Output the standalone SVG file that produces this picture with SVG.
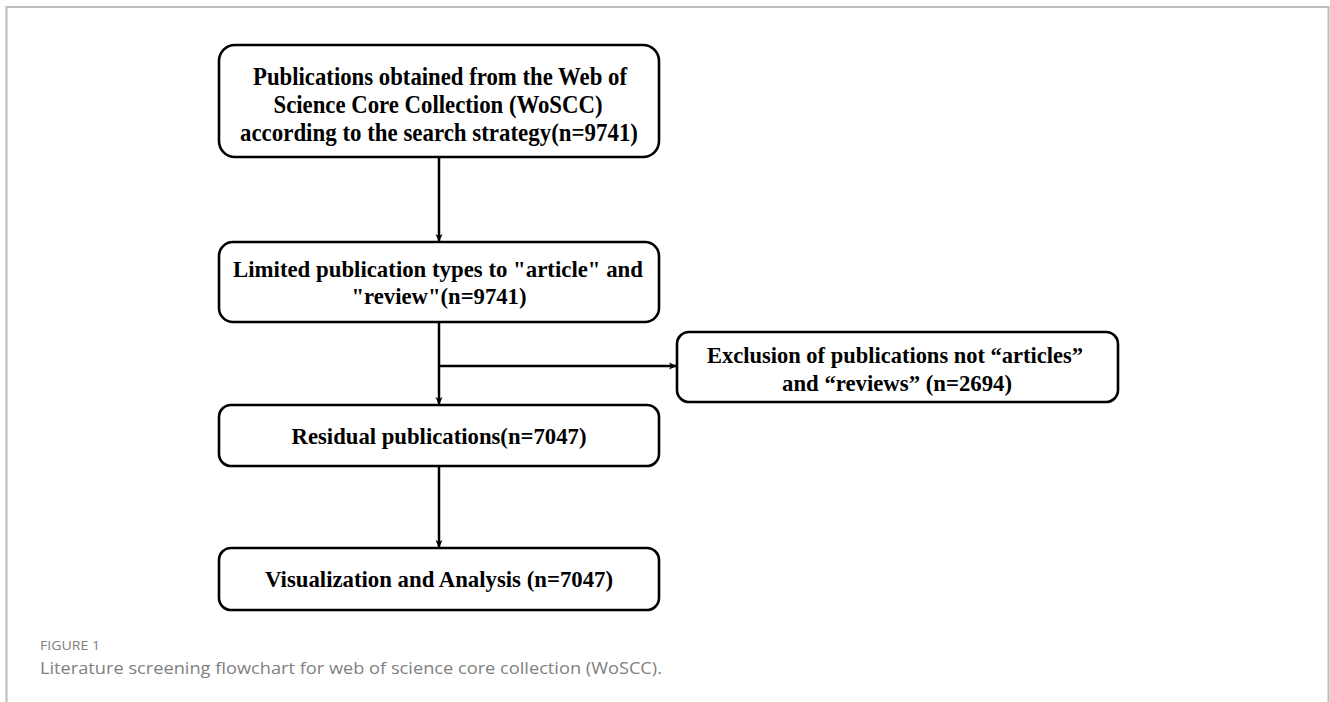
<svg xmlns="http://www.w3.org/2000/svg" width="1330" height="702" viewBox="0 0 1330 702">
<style>
.box{fill:#fff;stroke:#000;stroke-width:2.6}
.t{font-family:"Liberation Serif","Times New Roman",serif;font-weight:bold;font-size:23px;fill:#000;text-anchor:middle}
.t1{font-size:25px}
.c{stroke:#000;stroke-width:2.5;fill:none}
.cap{font-family:"Open Sans",Lato,sans-serif;fill:#808080}
</style>
<defs>
<marker id="ah" markerWidth="8" markerHeight="8" refX="7" refY="4" orient="auto" markerUnits="userSpaceOnUse">
<path d="M0,0.5 L8,4 L0,7.5 L2,4 Z" fill="#000"/>
</marker>
</defs>
<rect width="1330" height="702" fill="#fff"/>
<path d="M6.5,702 V7 H1328.5 V702" fill="none" stroke="#bbb" stroke-width="2"/>
<g id="connectors">
<line class="c" x1="439" y1="157" x2="439" y2="241" marker-end="url(#ah)"/>
<line class="c" x1="439" y1="322" x2="439" y2="404" marker-end="url(#ah)"/>
<line class="c" x1="439" y1="366" x2="676" y2="366" marker-end="url(#ah)"/>
<line class="c" x1="439" y1="466" x2="439" y2="547" marker-end="url(#ah)"/>
</g>
<g id="n1">
<rect class="box" x="219" y="45" width="440" height="112" rx="16"/>
<text class="t t1" x="440" y="85" textLength="374" lengthAdjust="spacingAndGlyphs">Publications obtained from the Web of</text>
<text class="t t1" x="438" y="113" textLength="329" lengthAdjust="spacingAndGlyphs">Science Core Collection (WoSCC)</text>
<text class="t t1" x="439" y="141" textLength="398" lengthAdjust="spacingAndGlyphs">according to the search strategy(n=9741)</text>
</g>
<g id="n2">
<rect class="box" x="219" y="242" width="440" height="80" rx="14"/>
<text class="t" x="438" y="277" textLength="410" lengthAdjust="spacingAndGlyphs">Limited publication types to "article" and</text>
<text class="t" x="439" y="304" textLength="175" lengthAdjust="spacingAndGlyphs">"review"(n=9741)</text>
</g>
<g id="n3">
<rect class="box" x="677" y="332" width="441" height="70" rx="12"/>
<text class="t" x="895" y="363" textLength="376" lengthAdjust="spacingAndGlyphs">Exclusion of publications not “articles”</text>
<text class="t" x="897" y="391" textLength="230" lengthAdjust="spacingAndGlyphs">and “reviews” (n=2694)</text>
</g>
<g id="n4">
<rect class="box" x="219" y="405" width="440" height="61" rx="12"/>
<text class="t" x="439" y="444" textLength="295" lengthAdjust="spacingAndGlyphs">Residual publications(n=7047)</text>
</g>
<g id="n5">
<rect class="box" x="219" y="548" width="440" height="62" rx="12"/>
<text class="t" x="439" y="587" textLength="348" lengthAdjust="spacingAndGlyphs">Visualization and Analysis (n=7047)</text>
</g>
<text class="cap" x="40" y="650" font-size="13" textLength="60" lengthAdjust="spacingAndGlyphs">FIGURE 1</text>
<text class="cap" x="40" y="674" font-size="17" textLength="622" lengthAdjust="spacingAndGlyphs">Literature screening flowchart for web of science core collection (WoSCC).</text>
</svg>
